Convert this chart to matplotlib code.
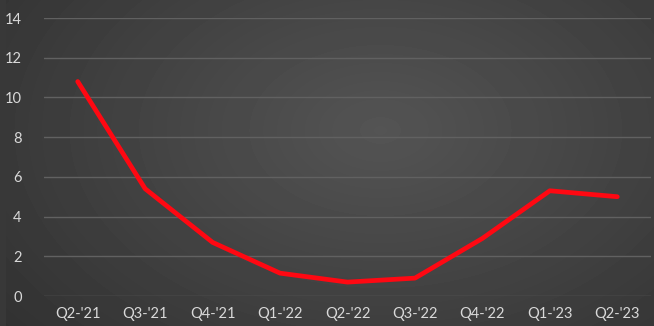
import numpy as np
import matplotlib.pyplot as plt

quarters = ["Q2-'21", "Q3-'21", "Q4-'21", "Q1-'22", "Q2-'22", "Q3-'22", "Q4-'22", "Q1-'23", "Q2-'23"]
values = [10.8, 5.4, 2.7, 1.15, 0.7, 0.9, 2.9, 5.3, 5.0]

fig = plt.figure(figsize=(6.54, 3.26), dpi=100)

# radial grey background
bg = fig.add_axes([0, 0, 1, 1], zorder=0)
yy, xx = np.mgrid[0:326, 0:654]
r = np.sqrt(((xx - 380) / 460.0) ** 2 + ((yy - 130) / 300.0) ** 2)
shade = np.clip(0.33 - 0.13 * r, 0.17, 0.33)
shade[:, :6] = 0.22
bg.imshow(shade, cmap="gray", vmin=0, vmax=1, aspect="auto", interpolation="bilinear")
bg.axis("off")

ax = fig.add_axes([44 / 654, 30 / 326, 607 / 654, 278 / 326], zorder=1)
ax.patch.set_alpha(0)
x = np.arange(len(quarters))
ax.plot(x, values, color="#ff0812", linewidth=3.4, solid_joinstyle="round",
        solid_capstyle="round", zorder=3)

ax.set_xlim(-0.5, len(quarters) - 0.5)
ax.set_ylim(0, 14)
ax.set_yticks(range(0, 15, 2))
ax.set_xticks(x)
ax.set_xticklabels(quarters)
ax.grid(axis="y", color="#616161", linewidth=1)
ax.set_axisbelow(True)
for s in ax.spines.values():
    s.set_visible(False)
ax.tick_params(length=0, colors="#d9d9d9", labelsize=10.5)
ax.tick_params(axis="y", pad=16)
ax.tick_params(axis="x", pad=8)
for t in ax.get_xticklabels() + ax.get_yticklabels():
    t.set_fontfamily("Lato")

fig.savefig("out.png", dpi=100)
